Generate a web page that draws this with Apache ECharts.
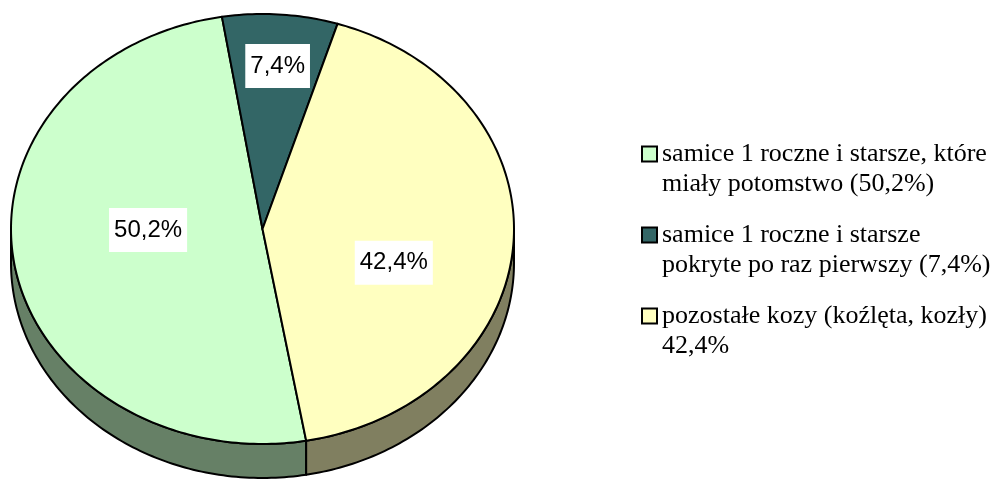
<!DOCTYPE html>
<html>
<head>
<meta charset="utf-8">
<style>
  html, body { margin: 0; padding: 0; background: #fff; }
  #chart { width: 992px; height: 479px; }
</style>
<script src="https://cdn.jsdelivr.net/npm/echarts@6/dist/echarts.min.js"></script>
</head>
<body>
<div id="chart"></div>
<script>
// legend texts (as in the source chart)
const categories = [
  'samice 1 roczne i starsze, które\nmiały potomstwo (50,2%)',
  'samice 1 roczne i starsze\npokryte po raz pierwszy (7,4%)',
  'pozostałe kozy (koźlęta, kozły)\n42,4%'
]
const values = [50.2, 7.4, 42.4] // %
const topColors = ['#CCFFCC', '#336666', '#FFFFC0']
const sideColors = ['#668066', '#1A3333', '#807F60']

const startAngle = 170 // clockwise from 12 o'clock
const depth = 34 // px, thickness of the 3d rim
// label placement: [radius fraction, angle shift deg]
const labelLayout = [[0.455, 9], [0.76, 0.5], [0.545, 13]]

const total = values.reduce((s, v) => s + v, 0)
const slices = []
let acc = startAngle
values.forEach((v, i) => {
  const span = v / total * 360
  slices.push([0, 0, acc, acc + span, i])
  acc += span
})

function pt(api, deg, r) {
  const rad = deg * Math.PI / 180
  return api.coord([r * Math.sin(rad), r * Math.cos(rad)])
}

function arc(api, a, b, dy) {
  const pts = []
  const n = Math.max(2, Math.ceil(Math.abs(b - a)))
  for (let k = 0; k <= n; k++) {
    const p = pt(api, a + (b - a) * k / n, 1)
    pts.push([p[0], p[1] + dy])
  }
  return pts
}

function renderSide(params, api) {
  const a = api.value(2)
  const b = api.value(3)
  const i = api.value(4)
  const children = []
  // front half of the ellipse is 90..270 deg
  ;[[90, 270], [450, 630]].forEach(([lo, hi]) => {
    const s = Math.max(a, lo)
    const e = Math.min(b, hi)
    if (e <= s) return
    const top = arc(api, s, e, 0)
    const bottom = arc(api, e, s, depth)
    children.push({
      type: 'polygon',
      shape: { points: top.concat(bottom) },
      style: { fill: sideColors[i], stroke: '#000', lineWidth: 2, lineJoin: 'round' }
    })
  })
  return { type: 'group', children }
}

function renderTop(params, api) {
  const a = api.value(2)
  const b = api.value(3)
  const i = api.value(4)
  const c = api.coord([0, 0])
  const pts = [c].concat(arc(api, a, b, 0))
  const mid = (a + b) / 2 + labelLayout[i][1]
  const lp = pt(api, mid, labelLayout[i][0])
  return {
    type: 'group',
    children: [
      {
        type: 'polygon',
        shape: { points: pts },
        style: { fill: topColors[i], stroke: '#000', lineWidth: 2, lineJoin: 'round' }
      },
      {
        type: 'text',
        x: lp[0],
        y: lp[1],
        z2: 10,
        style: {
          text: values[i].toFixed(1).replace('.', ',') + '%',
          font: '24px "Liberation Sans", Arial, sans-serif',
          fill: '#000',
          align: 'center',
          verticalAlign: 'middle',
          backgroundColor: '#fff',
          padding: [10, 5]
        }
      }
    ]
  }
}

const series = [{
  type: 'custom',
  name: 'side',
  z: 1,
  clip: false,
  silent: true,
  data: slices,
  encode: { x: 0, y: 1 },
  renderItem: renderSide
}]
categories.forEach((name, i) => {
  series.push({
    type: 'custom',
    name: name,
    z: 2,
    clip: false,
    silent: true,
    itemStyle: { color: topColors[i] },
    data: [slices[i]],
    encode: { x: 0, y: 1 },
    renderItem: renderTop
  })
})

const option = {
  animation: false,
  grid: { left: 11, top: 14, width: 503, height: 430 },
  xAxis: { type: 'value', min: -1, max: 1, show: false },
  yAxis: { type: 'value', min: -1, max: 1, show: false },
  legend: {
    data: categories,
    orient: 'vertical',
    left: 641,
    top: 139,
    padding: 0,
    itemWidth: 15,
    itemHeight: 45,
    itemGap: 21,
    // square sits at the top of a taller box so it lines up with the first text line
    icon: 'path://M0,0h15v15h-15zM0,45',
    selectedMode: false,
    itemStyle: { borderColor: '#000', borderWidth: 2 },
    textStyle: {
      fontFamily: '"Liberation Serif", "Times New Roman", serif',
      fontSize: 26,
      lineHeight: 30,
      color: '#000'
    }
  },
  series
}

const myChart = echarts.init(document.getElementById('chart'))
myChart.setOption(option)
window.addEventListener('resize', () => {
  myChart.resize()
})
</script>
</body>
</html>
